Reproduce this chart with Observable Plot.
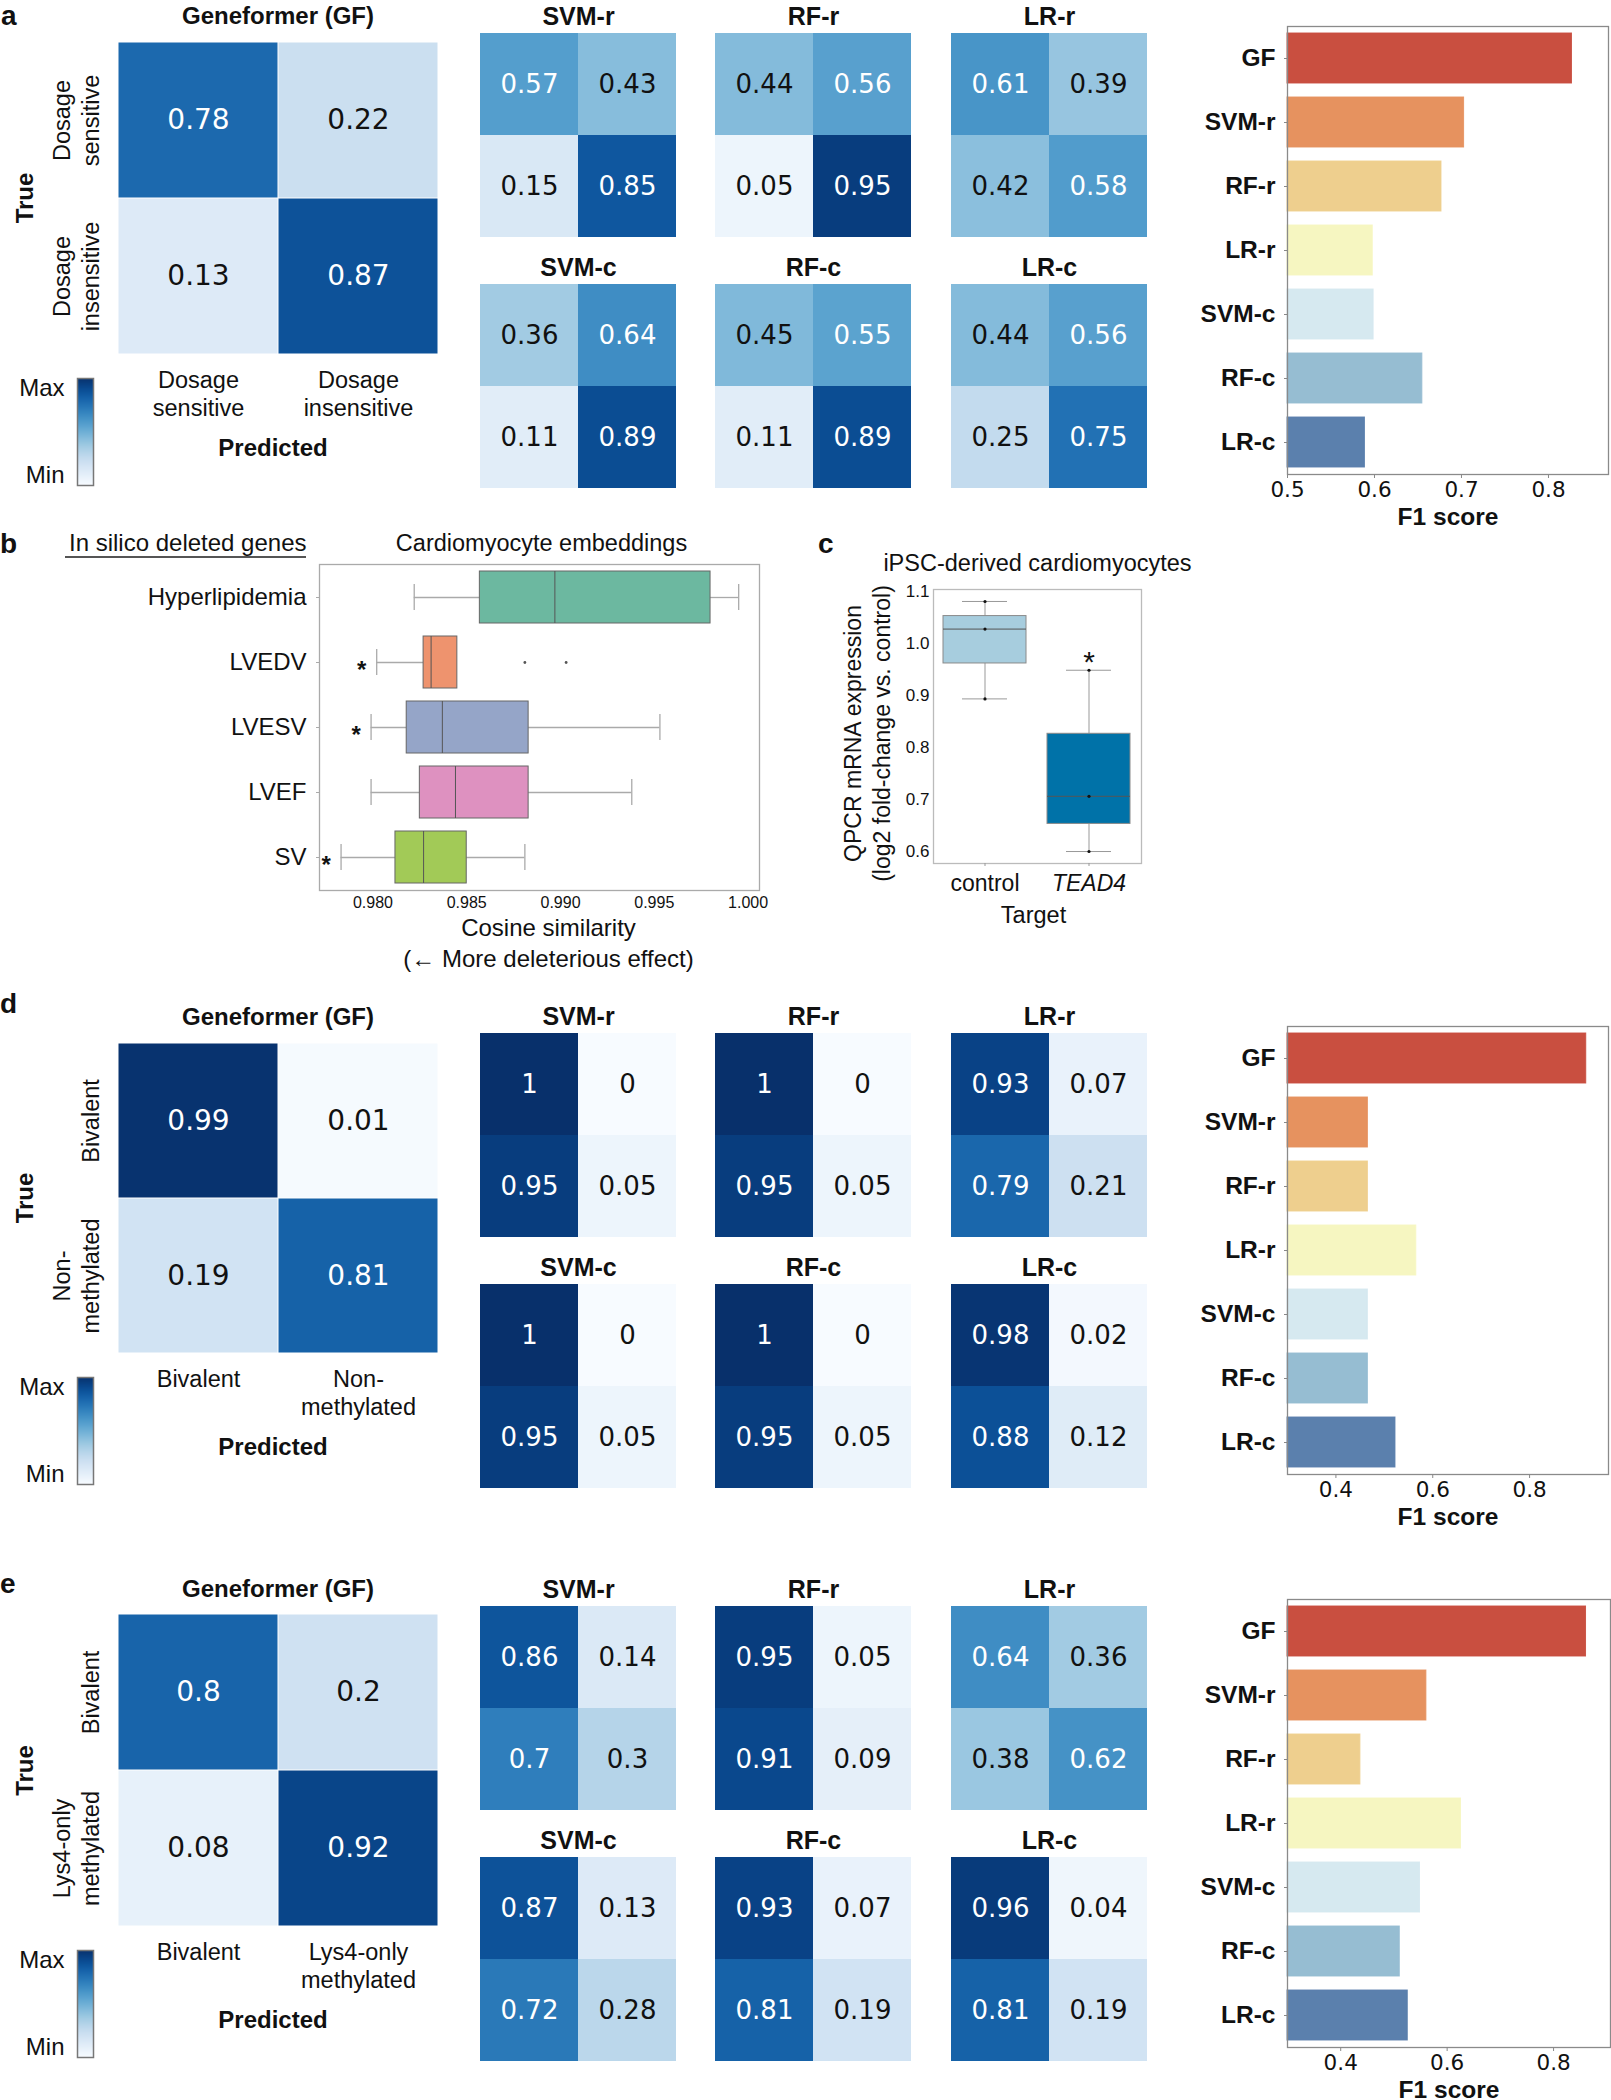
<!DOCTYPE html>
<html>
<head>
<meta charset="utf-8">
<script src="https://cdn.jsdelivr.net/npm/d3@7"></script>
<script src="https://cdn.jsdelivr.net/npm/@observablehq/plot@0.6"></script>
<style>
  html, body { margin: 0; padding: 0; background: #fff; }
  #root { position: relative; width: 1611px; height: 2100px; overflow: hidden; background: #fff; }
</style>
</head>
<body>
<div id="root"></div>
<script>
// ================= DATA =================
const models = ["SVM-r", "RF-r", "LR-r", "SVM-c", "RF-c", "LR-c"];
const barModels = ["GF", "SVM-r", "RF-r", "LR-r", "SVM-c", "RF-c", "LR-c"];
const barColors = ["#c94f40", "#e6925f", "#eecf8e", "#f6f6c1", "#d6e9f0", "#96bdd2", "#5b80ad"];

// Panel a
const classesA = ["Dosage\nsensitive", "Dosage\ninsensitive"];
const gfA = [0.78, 0.22, 0.13, 0.87];
const smallA = [
  [0.57, 0.43, 0.15, 0.85],
  [0.44, 0.56, 0.05, 0.95],
  [0.61, 0.39, 0.42, 0.58],
  [0.36, 0.64, 0.11, 0.89],
  [0.45, 0.55, 0.11, 0.89],
  [0.44, 0.56, 0.25, 0.75]
];
const f1A = [0.827, 0.703, 0.677, 0.598, 0.599, 0.655, 0.589];
const f1DomainA = [0.5, 0.869];
const f1TicksA = [0.5, 0.6, 0.7, 0.8];

// Panel d
const classesD = ["Bivalent", "Non-\nmethylated"];
const gfD = [0.99, 0.01, 0.19, 0.81];
const smallD = [
  [1, 0, 0.95, 0.05],
  [1, 0, 0.95, 0.05],
  [0.93, 0.07, 0.79, 0.21],
  [1, 0, 0.95, 0.05],
  [1, 0, 0.95, 0.05],
  [0.98, 0.02, 0.88, 0.12]
];
const f1D = [0.917, 0.466, 0.466, 0.566, 0.466, 0.466, 0.523];
const f1DomainD = [0.3, 0.963];
const f1TicksD = [0.4, 0.6, 0.8];

// Panel e
const classesE = ["Bivalent", "Lys4-only\nmethylated"];
const gfE = [0.8, 0.2, 0.08, 0.92];
const smallE = [
  [0.86, 0.14, 0.7, 0.3],
  [0.95, 0.05, 0.91, 0.09],
  [0.64, 0.36, 0.38, 0.62],
  [0.87, 0.13, 0.72, 0.28],
  [0.93, 0.07, 0.81, 0.19],
  [0.96, 0.04, 0.81, 0.19]
];
const f1E = [0.861, 0.561, 0.437, 0.626, 0.549, 0.511, 0.526];
const f1DomainE = [0.3, 0.907];
const f1TicksE = [0.4, 0.6, 0.8];

// Panel b (cosine similarity box plots)
const boxGenes = ["Hyperlipidemia", "LVEDV", "LVESV", "LVEF", "SV"];
const boxLow = [0.9822, 0.9802, 0.9799, 0.9799, 0.9783];
const boxQ1 = [0.9857, 0.9827, 0.9818, 0.9825, 0.9812];
const boxMed = [0.9897, 0.9831, 0.9837, 0.9844, 0.9827];
const boxQ3 = [0.9980, 0.9845, 0.9883, 0.9883, 0.9850];
const boxHigh = [0.9995, 0.9845, 0.9953, 0.9938, 0.9881];
const boxColors = ["#6cb8a0", "#ee936e", "#95a5c8", "#de91c0", "#a2ca57"];
const boxStar = [false, true, true, false, true];
const outlierGene = ["LVEDV", "LVEDV"];
const outlierValue = [0.9881, 0.9903];
const cosTicks = [0.980, 0.985, 0.990, 0.995, 1.000];

// Panel c (qPCR)
const qTargets = ["control", "TEAD4"];
const qLow = [0.894, 0.601];
const qQ1 = [0.962, 0.654];
const qMed = [1.028, 0.707];
const qQ3 = [1.053, 0.827];
const qHigh = [1.081, 0.949];
const qColors = ["#a7cdde", "#0072a8"];
const qStar = [false, true];
const qTicks = [0.6, 0.7, 0.8, 0.9, 1.0, 1.1];

// ================= HELPERS =================
const root = document.getElementById("root");
const LS = "Liberation Sans, Arial, Helvetica, sans-serif";
const DV = "DejaVu Sans, Verdana, sans-serif";
const baseStyle = (fs) => ({fontFamily: LS, fontSize: fs + "px", overflow: "visible", maxWidth: "none", background: "transparent", color: "#111"});
const blues = {type: "linear", scheme: "blues", domain: [0, 1]};
const fmtV = v => String(v);

function put(svg, x, y) {
  svg.style.position = "absolute";
  svg.style.left = x + "px";
  svg.style.top = y + "px";
  root.appendChild(svg);
  return svg;
}

function bigMatrix(vals, labels, off, mt, mh) {
  const rows = labels.map(l => "T:" + l), cols = labels;
  const data = vals.map((v, i) => ({row: rows[Math.floor(i / 2)], col: cols[i % 2], v}));
  const ml = 117, mw = 321, mb = 150;
  const svg = Plot.plot({
    width: ml + mw + 6, height: mt + mh + mb,
    marginLeft: ml, marginTop: mt, marginRight: 6, marginBottom: mb,
    style: baseStyle(23),
    x: {domain: cols, padding: 0, axis: null},
    y: {domain: rows, padding: 0, axis: null},
    color: blues,
    marks: [
      Plot.cell(data, {x: "col", y: "row", fill: "v", inset: 0.5}),
      Plot.text(data.filter(d => d.v > 0.5), {x: "col", y: "row", text: d => fmtV(d.v), fill: "white", fontSize: 28, fontFamily: DV}),
      Plot.text(data.filter(d => d.v <= 0.5), {x: "col", y: "row", text: d => fmtV(d.v), fill: "#111", fontSize: 28, fontFamily: DV}),
      Plot.text(cols, {x: d => d, frameAnchor: "bottom", dy: 13, lineAnchor: "top", textAnchor: "middle", lineHeight: 1.2, fontSize: 23.5}),
      Plot.text(rows, {y: d => d, text: d => d.slice(2), frameAnchor: "left", dx: -19, rotate: -90, textAnchor: "middle", lineAnchor: "bottom", lineHeight: 1.2, fontSize: 23.5}),
      Plot.text(["True"], {frameAnchor: "left", dx: -92, rotate: -90, textAnchor: "middle", lineAnchor: "middle", fontWeight: "bold", fontSize: 24}),
      Plot.text(["Geneformer (GF)"], {frameAnchor: "top", dy: -25, lineAnchor: "middle", fontWeight: "bold", fontSize: 24}),
      Plot.text(["Predicted"], {frameAnchor: "bottom", dy: 94, dx: -5, lineAnchor: "middle", fontWeight: "bold", fontSize: 24})
    ]
  });
  put(svg, 0, off);
  // colour bar legend
  const cbTop = off + mt + mh + 24, cbH = 107;
  const ramp = d3.range(107);
  const cb = Plot.plot({
    width: 97, height: cbH + 20, marginLeft: 77, marginRight: 4, marginTop: 10, marginBottom: 10,
    style: baseStyle(24),
    x: {domain: [0, 1], axis: null},
    y: {domain: [0, 1], axis: null},
    color: blues,
    marks: [
      Plot.rect(ramp, {x1: 0, x2: 1, y1: d => d / 107, y2: d => (d + 1.3) / 107, fill: d => (d + 0.5) / 107, shapeRendering: "crispEdges"}),
      Plot.frame({stroke: "#777", strokeWidth: 1.5}),
      Plot.text(["Max"], {frameAnchor: "top-left", dx: -13, dy: 10, textAnchor: "end", lineAnchor: "middle", fontSize: 24}),
      Plot.text(["Min"], {frameAnchor: "bottom-left", dx: -13, dy: -10, textAnchor: "end", lineAnchor: "middle", fontSize: 24})
    ]
  });
  put(cb, 0, cbTop - 10);
}

const smallX = [480, 715, 951];
const smallY = [33, 284];
function smallMatrix(vals, title, x0, y0) {
  const data = vals.map((v, i) => ({r: i < 2 ? "a" : "b", c: i % 2 ? "q" : "p", v}));
  const mt = 34;
  const svg = Plot.plot({
    width: 196, height: 204 + mt, marginTop: mt, marginLeft: 0, marginRight: 0, marginBottom: 0,
    style: baseStyle(23),
    x: {domain: ["p", "q"], padding: 0, axis: null},
    y: {domain: ["a", "b"], padding: 0, axis: null},
    color: blues,
    marks: [
      Plot.cell(data, {x: "c", y: "r", fill: "v"}),
      Plot.text(data.filter(d => d.v > 0.5), {x: "c", y: "r", text: d => fmtV(d.v), fill: "white", fontSize: 26, fontFamily: DV}),
      Plot.text(data.filter(d => d.v <= 0.5), {x: "c", y: "r", text: d => fmtV(d.v), fill: "#111", fontSize: 26, fontFamily: DV}),
      Plot.text([title], {frameAnchor: "top", dy: -17, lineAnchor: "middle", fontWeight: "bold", fontSize: 25})
    ]
  });
  put(svg, x0, y0 - mt);
}

function barChart(vals, domain, ticks, off, top, bot, right) {
  const data = barModels.map((n, i) => ({n, v: vals[i], c: barColors[i]}));
  const ml = 117, mt = 10, mb = 60;
  const fw = right - 1287, fh = bot - top;
  const svg = Plot.plot({
    width: ml + fw + 4, height: mt + fh + mb,
    marginLeft: ml, marginTop: mt, marginRight: 4, marginBottom: mb,
    style: baseStyle(20),
    x: {domain, axis: null},
    y: {domain: barModels, paddingInner: 0.22, paddingOuter: 0.11, axis: null},
    color: {type: "identity"},
    marks: [
      Plot.barX(data, {x1: domain[0], x2: "v", y: "n", fill: "c", stroke: "c", strokeOpacity: 0.9}),
      Plot.frame({stroke: "#8a8a8a", strokeWidth: 1.3}),
      Plot.axisY({tickSize: 3, tickPadding: 9, fontSize: 24.5, fontWeight: "bold", stroke: "#888", label: null}),
      Plot.axisX({ticks, tickFormat: d => String(d), tickSize: 4, tickPadding: 3, fontSize: 21.5, fontFamily: DV, stroke: "#888", label: null}),
      Plot.text(["F1 score"], {frameAnchor: "bottom", dy: 43, lineAnchor: "middle", fontWeight: "bold", fontSize: 24.5})
    ]
  });
  put(svg, 1170, off + top - mt);
}

// ================= PANEL a / d / e =================
function panel(off, labels, gf, small, f1, dom, ticks, mt, mh, btop, bbot, bright) {
  bigMatrix(gf, labels, off, mt, mh);
  small.forEach((vals, i) => smallMatrix(vals, models[i], smallX[i % 3], off + smallY[Math.floor(i / 3)]));
  barChart(f1, dom, ticks, off, btop, bbot, bright);
}
panel(0, classesA, gfA, smallA, f1A, f1DomainA, f1TicksA, 41, 313, 26, 474, 1608);
panel(1000, classesD, gfD, smallD, f1D, f1DomainD, f1TicksD, 42, 311, 26, 474, 1608);
panel(1573, classesE, gfE, smallE, f1E, f1DomainE, f1TicksE, 41, 312, 26, 474, 1610);

// ================= PANEL b =================
{
  const idx = d3.range(boxGenes.length);
  const outl = outlierGene.map((g, i) => ({g, v: outlierValue[i]}));
  const hasHigh = idx.filter(i => boxHigh[i] > boxQ3[i]);
  const svg = Plot.plot({
    width: 773, height: 460, marginLeft: 319, marginRight: 14, marginTop: 44, marginBottom: 90,
    style: baseStyle(24),
    x: {domain: [0.97715, 1.00061], axis: null},
    y: {domain: boxGenes, paddingInner: 0.2, paddingOuter: 0.1, axis: null},
    color: {type: "identity"},
    marks: [
      Plot.frame({stroke: "#aaa", strokeWidth: 1.3}),
      Plot.ruleY(idx, {y: i => boxGenes[i], x1: i => boxLow[i], x2: i => boxQ1[i], stroke: "#aaa", strokeWidth: 1.3}),
      Plot.ruleY(hasHigh, {y: i => boxGenes[i], x1: i => boxQ3[i], x2: i => boxHigh[i], stroke: "#aaa", strokeWidth: 1.3}),
      Plot.tickX(idx, {x: i => boxLow[i], y: i => boxGenes[i], insetTop: 13, insetBottom: 13, stroke: "#aaa", strokeWidth: 1.3}),
      Plot.tickX(hasHigh, {x: i => boxHigh[i], y: i => boxGenes[i], insetTop: 13, insetBottom: 13, stroke: "#aaa", strokeWidth: 1.3}),
      Plot.barX(idx, {x1: i => boxQ1[i], x2: i => boxQ3[i], y: i => boxGenes[i], fill: i => boxColors[i], stroke: "#666", strokeWidth: 1}),
      Plot.tickX(idx, {x: i => boxMed[i], y: i => boxGenes[i], stroke: "#555", strokeWidth: 1}),
      Plot.dot(outl, {x: "v", y: "g", r: 1.4, fill: "#555", stroke: null}),
      Plot.text(idx.filter(i => boxStar[i]), {x: i => boxLow[i], y: i => boxGenes[i], text: () => "*", dx: -15, dy: 8, fontSize: 24, fontWeight: "bold"}),
      Plot.axisY({tickSize: 3, tickPadding: 10, fontSize: 24, stroke: "#aaa", label: null}),
      Plot.axisX({ticks: cosTicks, tickFormat: ".3f", tickSize: 0, tickPadding: 6, fontSize: 16, label: null}),
      Plot.text(["Cardiomyocyte embeddings"], {frameAnchor: "top", dx: 2, dy: -21, lineAnchor: "middle", fontSize: 23.5}),
      Plot.text(["In silico deleted genes"], {frameAnchor: "top-left", dx: -13, dy: -21, textAnchor: "end", lineAnchor: "middle", fontSize: 24}),
      Plot.text(["Cosine similarity"], {frameAnchor: "bottom", dy: 38, dx: 9, lineAnchor: "middle", fontSize: 24}),
      Plot.text(["(\u2190 More deleterious effect)"], {frameAnchor: "bottom", dy: 69, dx: 9, lineAnchor: "middle", fontSize: 24})
    ]
  });
  put(svg, 0, 520);
}

// ================= PANEL c =================
{
  const idx = d3.range(qTargets.length);
  const pts = idx.flatMap(i => [qLow[i], qMed[i], qHigh[i]].map(v => ({t: qTargets[i], v})));
  const svg = Plot.plot({
    width: 351, height: 413, marginLeft: 133, marginRight: 10, marginTop: 69, marginBottom: 70,
    style: baseStyle(17),
    x: {domain: qTargets, paddingInner: 0.2, paddingOuter: 0.1, axis: null},
    y: {domain: [0.578, 1.104], axis: null},
    color: {type: "identity"},
    marks: [
      Plot.frame({stroke: "#bbb", strokeWidth: 1.3}),
      Plot.ruleX(idx, {x: i => qTargets[i], y1: i => qLow[i], y2: i => qQ1[i], stroke: "#999"}),
      Plot.ruleX(idx, {x: i => qTargets[i], y1: i => qQ3[i], y2: i => qHigh[i], stroke: "#999"}),
      Plot.tickY(idx, {x: i => qTargets[i], y: i => qLow[i], insetLeft: 19, insetRight: 19, stroke: "#999"}),
      Plot.tickY(idx, {x: i => qTargets[i], y: i => qHigh[i], insetLeft: 19, insetRight: 19, stroke: "#999"}),
      Plot.barY(idx, {x: i => qTargets[i], y1: i => qQ1[i], y2: i => qQ3[i], fill: i => qColors[i], stroke: "#8a8a8a", strokeWidth: 1}),
      Plot.tickY(idx, {x: i => qTargets[i], y: i => qMed[i], stroke: "#555", strokeWidth: 1}),
      Plot.dot(pts, {x: "t", y: "v", r: 1.6, fill: "#111", stroke: null}),
      Plot.text(idx.filter(i => qStar[i]), {x: i => qTargets[i], y: i => qHigh[i], text: () => "*", lineAnchor: "bottom", dy: 2, fontSize: 30}),
      Plot.axisY({ticks: qTicks, tickFormat: ".1f", tickSize: 0, tickPadding: 4, fontSize: 17, label: null}),
      Plot.axisX({tickSize: 3, tickPadding: 8, fontSize: 23, stroke: "#999", label: null}),
      Plot.text(["iPSC-derived cardiomyocytes"], {frameAnchor: "top", dy: -26, lineAnchor: "middle", fontSize: 23.5}),
      Plot.text(["Target"], {frameAnchor: "bottom", dy: 52, dx: -4, lineAnchor: "middle", fontSize: 23.5}),
      Plot.text(["QPCR mRNA expression\n(log2 fold-change vs. control)"], {frameAnchor: "left", dx: -44, dy: 7, rotate: -90, textAnchor: "middle", lineAnchor: "bottom", lineHeight: 1.25, fontSize: 23})
    ]
  });
  put(svg, 800, 520);
  d3.select(svg).selectAll("text").filter(function () { return this.textContent === "TEAD4"; }).style("font-style", "italic");
}

// ================= OVERLAY: panel letters & underline =================
{
  const ov = d3.create("svg").attr("width", 1611).attr("height", 2100)
    .style("position", "absolute").style("left", "0px").style("top", "0px").style("pointer-events", "none");
  const letters = [["a", 1, 25], ["b", 0, 553], ["c", 818, 553], ["d", 0, 1013], ["e", 0, 1593]];
  ov.selectAll("text").data(letters).join("text")
    .attr("x", d => d[1]).attr("y", d => d[2]).text(d => d[0])
    .attr("font-family", LS).attr("font-weight", "bold").attr("font-size", 28).attr("fill", "#111");
  ov.append("line").attr("x1", 65).attr("x2", 306).attr("y1", 557).attr("y2", 557)
    .attr("stroke", "#555").attr("stroke-width", 2);
  root.appendChild(ov.node());
}
</script>
</body>
</html>
